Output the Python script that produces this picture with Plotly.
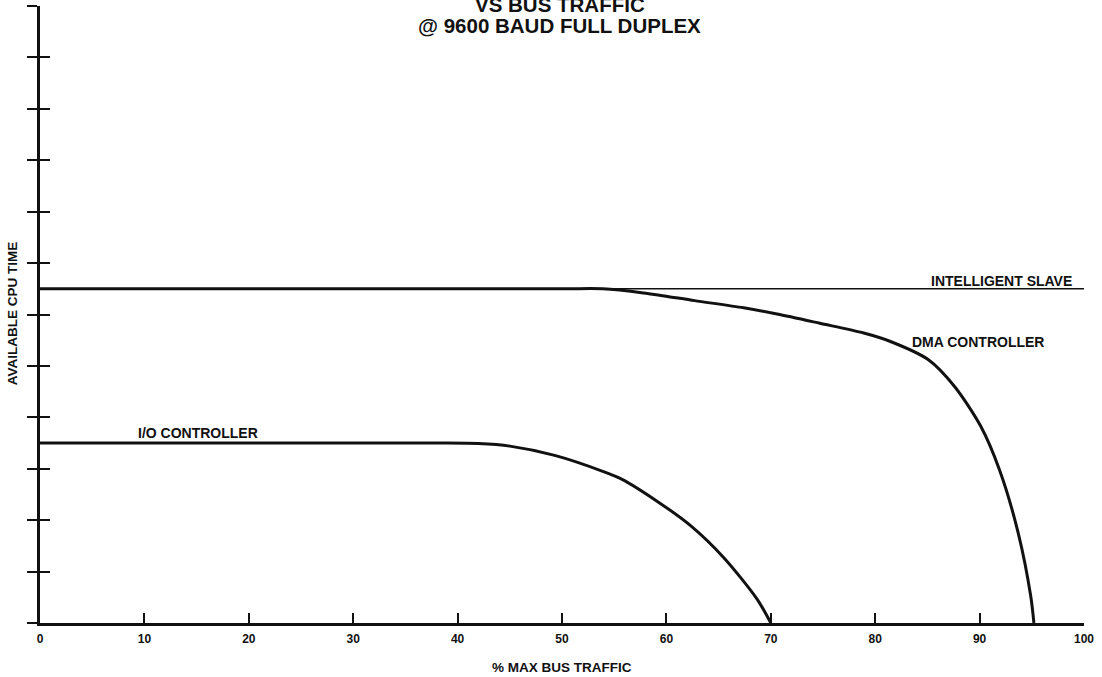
import plotly.graph_objects as go

# % max bus traffic vs available CPU time
SLAVE_X = [0, 100]
SLAVE_Y = [6.5, 6.5]

DMA_X = [0, 50, 53.9, 57.8, 62.7, 67.4, 70.6, 74.7, 78.9, 81.4, 85.1, 87.6, 90.1, 91.9, 93.7, 94.9, 95.2]
DMA_Y = [6.5, 6.5, 6.5, 6.42, 6.27, 6.13, 6.01, 5.83, 5.64, 5.48, 5.12, 4.60, 3.83, 2.98, 1.75, 0.52, 0]

IO_X = [0, 38, 42, 45.0, 49.3, 53.9, 55.8, 59.1, 62.4, 65.5, 68.7, 70]
IO_Y = [3.5, 3.5, 3.49, 3.44, 3.26, 2.95, 2.79, 2.37, 1.88, 1.27, 0.46, 0]

X_TICKS = [0, 10, 20, 30, 40, 50, 60, 70, 80, 90, 100]

FONT = "Liberation Sans, Arial, Helvetica, sans-serif"
INK = "#111111"

fig = go.Figure()

# slave line sits on the second (overlay) y axis so that axis gets drawn too
fig.add_trace(go.Scatter(x=SLAVE_X, y=SLAVE_Y, mode="lines", yaxis="y2",
                         line=dict(color=INK, width=1.6), hoverinfo="skip"))
fig.add_trace(go.Scatter(x=DMA_X, y=DMA_Y, mode="lines",
                         line=dict(color=INK, width=3, shape="spline", smoothing=0.8)))
fig.add_trace(go.Scatter(x=IO_X, y=IO_Y, mode="lines",
                         line=dict(color=INK, width=3, shape="spline", smoothing=0.8)))


def label(text, x, y, size=14, ref="data", **kw):
    xr, yr = ("x", "y") if ref == "data" else ("paper", "paper")
    fig.add_annotation(text=text, x=x, y=y, xref=xr, yref=yr, showarrow=False,
                       xanchor="center", yanchor="middle",
                       font=dict(family=FONT, size=size, color=INK, weight="bold"), **kw)


# Titles (first line partly cut off at the top, as in the scan)
label("VS BUS TRAFFIC", 0.498, 1.002, size=20.5, ref="paper")
label("@ 9600 BAUD FULL DUPLEX", 0.498, 0.968, size=20.5, ref="paper")

# Curve labels
label("INTELLIGENT SLAVE", 92.1, 6.65)
label("DMA CONTROLLER", 89.8, 5.46)
label("I/O CONTROLLER", 15.1, 3.70)

# Axis titles
label("AVAILABLE CPU TIME", -0.0268, 0.502, size=13.5, ref="paper", textangle=-90)
label("% MAX BUS TRAFFIC", 0.5, -0.0729, size=13.5, ref="paper")

fig.update_layout(
    width=1102, height=677,
    margin=dict(l=40, r=18, t=6, b=54),
    paper_bgcolor="white", plot_bgcolor="white",
    showlegend=False,
    xaxis=dict(range=[0, 100], tickvals=X_TICKS, ticks="inside", ticklen=10, tickwidth=2,
               tickcolor=INK, showline=True, linewidth=3, linecolor=INK, showgrid=False,
               zeroline=False, automargin=False, ticklabelstandoff=3,
               tickfont=dict(family=FONT, size=12, color=INK, weight="bold")),
    yaxis=dict(range=[0, 12], dtick=1, ticks="outside", ticklen=10, tickwidth=2,
               tickcolor=INK, showline=True, linewidth=3, linecolor=INK, showgrid=False,
               zeroline=False, showticklabels=False, automargin=False),
    # second copy of the y axis so the ticks cross the axis line
    yaxis2=dict(range=[0, 12], dtick=1, overlaying="y", side="left", ticks="inside",
                ticklen=10, tickwidth=2, tickcolor=INK, showline=False, showgrid=False,
                zeroline=False, showticklabels=False, automargin=False),
)

# drop the browser's default 8px body margin so the figure sits at the page corner
fig.write_html("out.html", config={"displayModeBar": False},
               post_script="document.body.style.margin = '0';")
